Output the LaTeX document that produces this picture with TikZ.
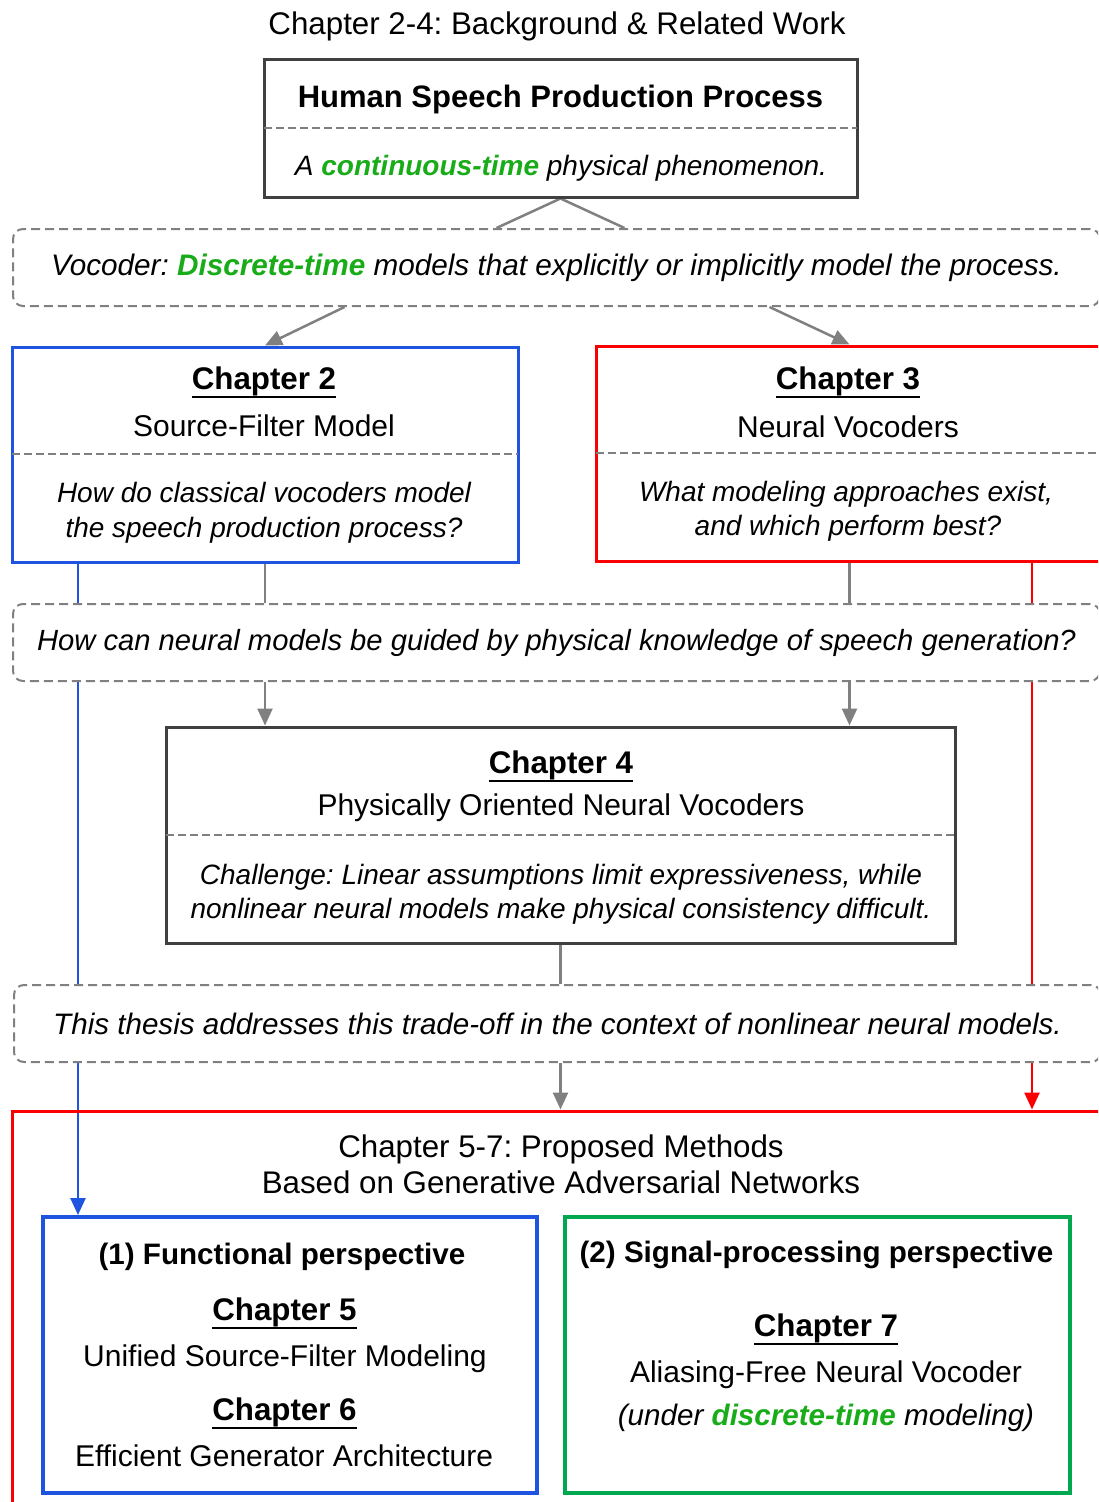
\documentclass[tikz,border=0pt]{standalone}
\usepackage{fontspec}
\setmainfont{Liberation Sans}
\usetikzlibrary{calc,arrows.meta}
\pgfdeclarelayer{back}
\pgfsetlayers{back,main}
\frenchspacing

\definecolor{framegray}{RGB}{64,64,64}
\definecolor{linkgray}{RGB}{128,128,128}
\definecolor{chblue}{RGB}{30,84,224}
\definecolor{chred}{RGB}{250,0,0}
\definecolor{chgreen}{RGB}{0,168,80}
\definecolor{keygreen}{RGB}{24,172,24}

% font sizes
\newcommand{\fsHead}{\fontsize{31.3}{37}\selectfont}
\newcommand{\fsBody}{\fontsize{30}{36}\selectfont}
\newcommand{\fsNote}{\fontsize{28}{34}\selectfont}
\newcommand{\fsPersp}{\fontsize{29.6}{35}\selectfont}
% bold chapter heading with a solid underline
\newcommand{\chaphead}[1]{\fsHead\setbox0\hbox{\bfseries #1}\rlap{\vrule height -6.5pt depth 9pt width \wd0}\box0}
% highlighted key term
\newcommand{\keyterm}[1]{{\bfseries\color{keygreen}#1}}

\begin{document}
\begin{tikzpicture}[x=1pt,y=-1pt,
  font=\fsBody,
  frame/.style={draw=framegray, line width=3pt, inner sep=0pt},
  dbox/.style={draw=linkgray, dash pattern=on 9pt off 5pt, line width=2pt,
    rounded corners=10pt, fill=white, inner sep=0pt},
  txt/.style={anchor=base, inner sep=0pt},
  divider/.style={draw=linkgray, dash pattern=on 8pt off 4pt, line width=1.5pt},
  link/.style={draw=linkgray, line width=2.5pt},
  tip/.style={-{Triangle[length=17pt,width=15pt]}}]

\useasboundingbox (0,0) rectangle (1098,1502);
\clip (0,0) rectangle (1098,1502);

% ---- background & related work ----
\node[txt, font=\fsHead] (title) at (557,34) {Chapter 2-4: Background \& Related Work};

\node[frame, minimum width=593pt, minimum height=138pt] (hsp) at (560.5,128) {};
\draw[divider] (264,128) -- (857,128);
\node[txt, font=\fontsize{31}{37}\selectfont] (hspA) at (560.5,107) {\bfseries Human Speech Production Process};
\node[txt, font=\fsNote] (hspB) at (561,175) {\itshape A \keyterm{continuous-time} physical phenomenon.};

\node[dbox, minimum width=1087pt, minimum height=77pt, font=\fontsize{29.7}{35}\selectfont] (voc) at (556.5,267.5)
  {\itshape Vocoder: \keyterm{Discrete-time} models that explicitly or implicitly model the process.};

% Chapter 2
\node[frame, draw=chblue, minimum width=506pt, minimum height=215pt] (c2) at (265,454.5) {};
\draw[divider] (12,454) -- (518,454);
\node[txt] (c2a) at (264,389) {\chaphead{Chapter 2}};
\node[txt] (c2b) at (264,436) {Source-Filter Model};
\node[txt, font=\fsNote] (c2c) at (264,502) {\itshape How do classical vocoders model};
\node[txt, font=\fsNote] (c2d) at (264,537) {\itshape the speech production process?};

% Chapter 3
\node[frame, draw=chred, minimum width=507pt, minimum height=215pt] (c3) at (849.5,453.5) {};
\draw[divider] (596,453) -- (1103,453);
\node[txt] (c3a) at (848,389) {\chaphead{Chapter 3}};
\node[txt] (c3b) at (848,437) {Neural Vocoders};
\node[txt, font=\fsNote] (c3c) at (846,501) {\itshape What modeling approaches exist,};
\node[txt, font=\fsNote] (c3d) at (848,535) {\itshape and which perform best?};

\node[dbox, minimum width=1087pt, minimum height=77pt, font=\fontsize{29.2}{35}\selectfont] (q) at (556.5,642.5)
  {\itshape How can neural models be guided by physical knowledge of speech generation?};

% Chapter 4
\node[frame, minimum width=789pt, minimum height=216pt] (c4) at (560.5,835) {};
\draw[divider] (166,835) -- (955,835);
\node[txt] (c4a) at (561,773) {\chaphead{Chapter 4}};
\node[txt] (c4b) at (561,815) {Physically Oriented Neural Vocoders};
\node[txt, font=\fsNote] (c4c) at (561,884) {\itshape Challenge: Linear assumptions limit expressiveness, while};
\node[txt, font=\fsNote] (c4d) at (561,918) {\itshape nonlinear neural models make physical consistency difficult.};

\node[dbox, minimum width=1087pt, minimum height=77pt, font=\fontsize{29.6}{35}\selectfont] (th) at (557.5,1023.5)
  {\itshape This thesis addresses this trade-off in the context of nonlinear neural models.};

% ---- proposed methods ----
\node[frame, draw=chred, minimum width=1098pt, minimum height=418pt] (big) at (561,1320) {};
\node[txt, font=\fsHead] (bigA) at (561,1157) {Chapter 5-7: Proposed Methods};
\node[txt, font=\fsHead] (bigB) at (561,1193) {Based on Generative Adversarial Networks};

\node[frame, draw=chblue, line width=4pt, minimum width=494pt, minimum height=276pt] (f) at (290,1355) {};
\node[txt, font=\fsPersp] (fa) at (282,1264) {\bfseries (1) Functional perspective};
\node[txt] (fb) at (284.5,1320) {\chaphead{Chapter 5}};
\node[txt] (fc) at (285,1366) {Unified Source-Filter Modeling};
\node[txt] (fd) at (284.5,1420) {\chaphead{Chapter 6}};
\node[txt] (fe) at (284,1466) {Efficient Generator Architecture};

\node[frame, draw=chgreen, line width=4pt, minimum width=505pt, minimum height=276pt] (g) at (817.5,1355) {};
\node[txt, font=\fsPersp] (ga) at (816.5,1262) {\bfseries (2) Signal-processing perspective};
\node[txt] (gb) at (826,1336) {\chaphead{Chapter 7}};
\node[txt] (gc) at (826,1382) {Aliasing-Free Neural Vocoder};
\node[txt, font=\fsPersp] (gd) at (826,1425) {\itshape (under \keyterm{discrete-time} modeling)};

% ---- connectors ----
\coordinate (bl) at ($(c2.south west)+(67.5,0)$);
\coordinate (rl) at ($(c3.south west)+(437.5,0)$);
\begin{pgfonlayer}{back}
  \draw[link] (hsp.south) -- ($(hsp.south |- voc.north)+(-64,0)$);
  \draw[link] (hsp.south) -- ($(hsp.south |- voc.north)+(64,0)$);
  \draw[link,tip] ($(voc.south)+(-212,0)$) -- (c2.north);
  \draw[link,tip] ($(voc.south)+(213,0)$) -- (c3.north);
  \draw[link] (c2.south) -- (c2.south |- q.north);
  \draw[link,tip] (c2.south |- q.south) -- (c2.south |- c4.north);
  \draw[link] (c3.south) -- (c3.south |- q.north);
  \draw[link,tip] (c3.south |- q.south) -- (c3.south |- c4.north);
  \draw[link] (c4.south) -- (c4.south |- th.north);
  \draw[link,tip] (c4.south |- th.south) -- (c4.south |- big.north);
  \draw[link,draw=chblue,tip] (bl) -- (bl |- f.north);
  \draw[link,draw=chred,tip] (rl) -- (rl |- big.north);
\end{pgfonlayer}
\end{tikzpicture}
\end{document}
